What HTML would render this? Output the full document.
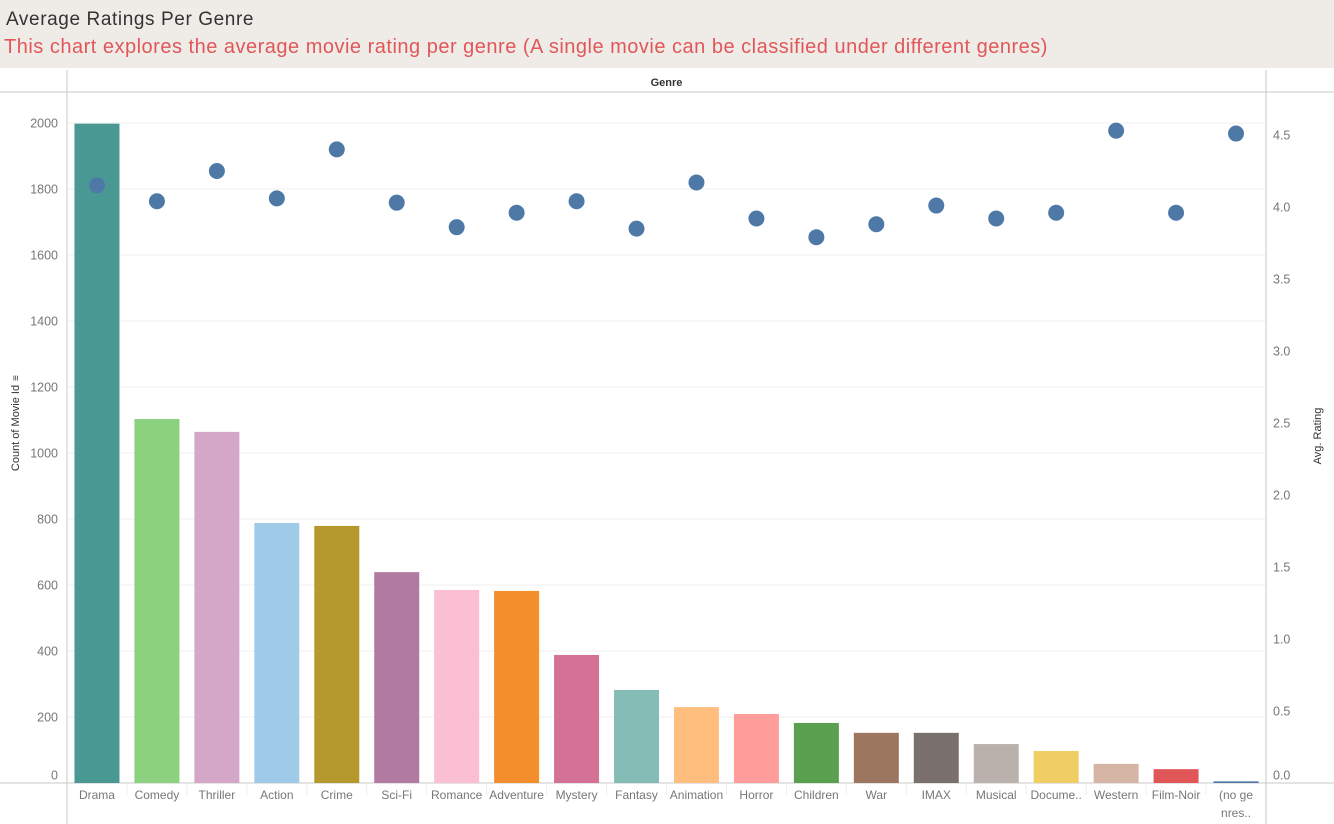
<!DOCTYPE html>
<html><head><meta charset="utf-8"><style>
body{margin:0;width:1334px;height:824px;overflow:hidden;background:#fff;font-family:"Liberation Sans",sans-serif}
#band{position:absolute;left:0;top:0;width:1334px;height:68px;background:#efebe7}
#t1{position:absolute;left:6px;top:9px;font-size:19px;color:#333;letter-spacing:0.6px}
#t2{position:absolute;left:4px;top:36px;font-size:20px;color:#e15759;letter-spacing:0.5px}
</style></head><body>
<div id="band">
<div id="t1">Average Ratings Per Genre</div>
<div id="t2">This chart explores the average movie rating per genre (A single movie can be classified under different genres)</div>
</div>
<svg id="c" width="1334" height="824" style="position:absolute;left:0;top:0"></svg>
<script>
const genres=["Drama","Comedy","Thriller","Action","Crime","Sci-Fi","Romance","Adventure","Mystery","Fantasy","Animation","Horror","Children","War","IMAX","Musical","Docume..","Western","Film-Noir","(no genres.."];
const counts=[1998,1103,1064,788,779,639,585,582,388,282,230,209,182,152,152,118,97,58,42,5];
const ratings=[4.15,4.04,4.25,4.06,4.40,4.03,3.86,3.96,4.04,3.85,4.17,3.92,3.79,3.88,4.01,3.92,3.96,4.53,3.96,4.51];
const leftTicks=[0,200,400,600,800,1000,1200,1400,1600,1800,2000];
const rightTicks=[0.0,0.5,1.0,1.5,2.0,2.5,3.0,3.5,4.0,4.5];
const colors=["#499894","#8cd17d","#d4a6c8","#a0cbe8","#b6992d","#b07aa1","#fabfd2","#f28e2b","#d37295","#86bcb6","#ffbe7d","#ff9d9a","#59a14f","#9d7660","#79706e","#bab0ac","#f1ce63","#d7b5a6","#e15759","#4e79a7"];
const svg=document.getElementById('c');const NS="http://www.w3.org/2000/svg";
const X0=67,X1=1266,BASE=783;
const yL=v=>BASE-v*0.33;
const yR=v=>BASE-v*144;
const colW=(X1-X0)/genres.length;
const xC=i=>X0+colW*(i+0.5);
function mk(t,a,p){const e=document.createElementNS(NS,t);for(const k in a)e.setAttribute(k,a[k]);(p||svg).appendChild(e);return e;}
leftTicks.forEach(v=>{if(v>0){const g=mk('line',{x1:X0,x2:X1,y1:yL(v),y2:yL(v),stroke:'#efefef'});

}
const yy=v===0?BASE-8:yL(v);
const t=mk('text',{x:58,y:yy+4.5,'text-anchor':'end','font-size':12.5,fill:'#777'});t.textContent=v;

});
rightTicks.forEach(v=>{const yy=v===0?BASE-8:yR(v);
const t=mk('text',{x:1273,y:yy+4.5,'font-size':12.5,fill:'#777'});t.textContent=v.toFixed(1);

});
[[X0,70,X0,824],[X1,70,X1,824],[0,92,1334,92],[0,BASE,1334,BASE]].forEach(l=>{const e=mk('line',{x1:l[0],y1:l[1],x2:l[2],y2:l[3],stroke:'#c8c8c8'});

});
for(let i=1;i<genres.length;i++){const e=mk('line',{x1:X0+colW*i,x2:X0+colW*i,y1:BASE,y2:BASE+12,stroke:'#eee'});

}
const h=mk('text',{x:(X0+X1)/2,y:86,'text-anchor':'middle','font-size':11,fill:'#333','font-weight':'bold'});h.textContent="Genre";


genres.forEach((g,i)=>{
const b=mk('rect',{x:xC(i)-22.5,width:45,y:yL(counts[i]),height:BASE-yL(counts[i]),fill:colors[i]});


const c=mk('circle',{cx:xC(i),cy:yR(ratings[i]),r:8,fill:'#4e79a7'});


if(i===genres.length-1){
const t=mk('text',{x:xC(i),y:799,'text-anchor':'middle','font-size':12,fill:'#777'});t.textContent="(no ge";


const t2=mk('text',{x:xC(i),y:817,'text-anchor':'middle','font-size':12,fill:'#777'});t2.textContent="nres..";


}else{
const t=mk('text',{x:xC(i),y:799,'text-anchor':'middle','font-size':12,fill:'#777'});t.textContent=g;

}
});
const a1=mk('text',{x:0,y:0,'text-anchor':'middle','font-size':11,fill:'#333',transform:'translate(19,428) rotate(-90)'});a1.textContent="Count of Movie Id";


const s=mk('text',{x:0,y:0,'font-size':10,fill:'#333',transform:'translate(19,381) rotate(-90)'});s.textContent="≡";


const a2=mk('text',{x:0,y:0,'text-anchor':'middle','font-size':11,fill:'#333',transform:'translate(1321,436) rotate(-90)'});a2.textContent="Avg. Rating";


</script>
</body></html>
